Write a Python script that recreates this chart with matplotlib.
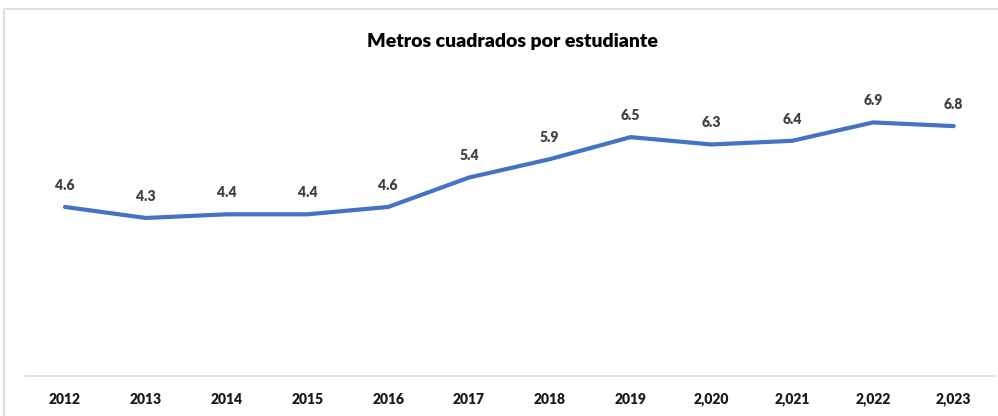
import matplotlib.pyplot as plt
from matplotlib.patches import Rectangle

years = ['2012', '2013', '2014', '2015', '2016', '2017', '2018', '2019',
         '2,020', '2,021', '2,022', '2,023']
m2_per_student = [4.6, 4.3, 4.4, 4.4, 4.6, 5.4, 5.9, 6.5, 6.3, 6.4, 6.9, 6.8]

LINE_COLOR = '#4472C4'
TEXT_COLOR = '#1a1a1a'

plt.rcParams['font.family'] = ['Lato', 'DejaVu Sans']

fig = plt.figure(figsize=(9.98, 4.16), dpi=100)
fig.patch.set_facecolor('white')

# chart frame (runs off the right and bottom edges)
fig.patches.append(Rectangle((4 / 998, -0.1), 1.2, (416 - 9) / 416 + 0.1,
                             transform=fig.transFigure, fill=False,
                             edgecolor='#d9d9d9', linewidth=1.2))

ax = fig.add_axes([24.6 / 998, 40 / 416, 969.6 / 998, 294 / 416])
x = range(len(years))
ax.plot(x, m2_per_student, color=LINE_COLOR, linewidth=3.0,
        solid_capstyle='round', solid_joinstyle='round')

for i, v in zip(x, m2_per_student):
    ax.annotate(f'{v:.1f}', (i, v), xytext=(0, 11), textcoords='offset points',
                ha='center', va='bottom', fontsize=10, fontweight='heavy',
                color='#404040')

ax.set_xlim(-0.5, len(years) - 0.5)
ax.set_ylim(0, 8)
ax.set_xticks(list(x))
ax.set_xticklabels(years, fontsize=10, fontweight='heavy', color=TEXT_COLOR)
ax.tick_params(axis='x', length=0, pad=12)
ax.set_yticks([])
for side in ['top', 'right', 'left']:
    ax.spines[side].set_visible(False)
ax.spines['bottom'].set_color('#d9d9d9')
ax.spines['bottom'].set_linewidth(1.2)
ax.set_facecolor('none')

fig.text(512 / 998, 1 - 42 / 416, 'Metros cuadrados por estudiante',
         ha='center', va='center', fontsize=14, fontweight='heavy', color='black')

fig.savefig('out.png', dpi=100)
